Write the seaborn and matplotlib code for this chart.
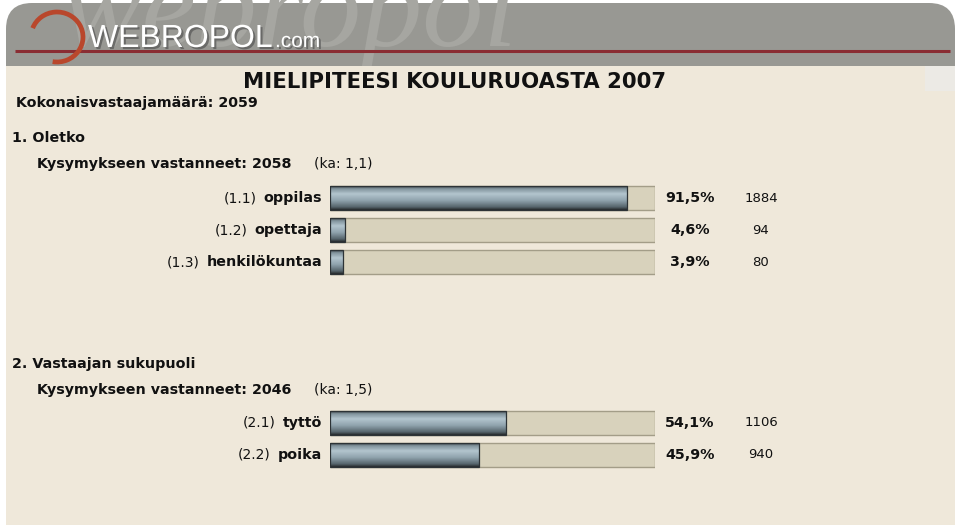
import numpy as np
import matplotlib
matplotlib.use('Agg')
import matplotlib.pyplot as plt
import matplotlib.patches as mpatches
import matplotlib.patheffects as pe
from matplotlib.colors import LinearSegmentedColormap
import seaborn as sns


# --- DATA ---

TITLE = 'MIELIPITEESI KOULURUOASTA 2007'
TOTAL_RESPONDENTS = 2059

Q1_TITLE = '1. Oletko'
Q1_ANSWERED = 2058
Q1_MEAN = '1,1'
Q1_CODES = ['(1.1)', '(1.2)', '(1.3)']
Q1_LABELS = ['oppilas', 'opettaja', 'henkilökuntaa']
Q1_PCT = [91.5, 4.6, 3.9]
Q1_COUNTS = [1884, 94, 80]

Q2_TITLE = '2. Vastaajan sukupuoli'
Q2_ANSWERED = 2046
Q2_MEAN = '1,5'
Q2_CODES = ['(2.1)', '(2.2)']
Q2_LABELS = ['tyttö', 'poika']
Q2_PCT = [54.1, 45.9]
Q2_COUNTS = [1106, 940]


# --- STYLE ---

W, H = 960, 529
PANEL = '#EFE8DA'
HEADER = '#989893'
WATERMARK = '#a6a6a1'
TRACK = '#D8D2BC'
TRACK_EDGE = '#A39D88'
BAR_EDGE = '#2d3336'
TEXT = '#111111'
BAR_CMAP = LinearSegmentedColormap.from_list('steel', [
    (0.00, '#3a4246'), (0.10, '#7f919a'), (0.32, '#b3c5ce'),
    (0.60, '#90a3ad'), (0.88, '#56656c'), (1.00, '#25292b')])
GRAD = np.linspace(0, 1, 64).reshape(-1, 1)

BOLD = 10.3
NORMAL = 10

sns.set_style('white')
plt.rcParams['font.family'] = ['DejaVu Sans']


def px_axes(fig, x0, y0, x1, y1):
    # axes placed by pixel box (top-left origin)
    return fig.add_axes([x0 / W, 1 - y1 / H, (x1 - x0) / W, (y1 - y0) / H])


def draw_bars(ax, codes, labels, pct, counts):
    n = len(labels)
    sns.barplot(x=[100] * n, y=labels, color=TRACK, edgecolor=TRACK_EDGE,
                linewidth=1.0, width=0.75, saturation=1, ax=ax)
    sns.barplot(x=pct, y=labels, color='#8fa2ac', width=0.75,
                saturation=1, linewidth=0, ax=ax)

    # steel gradient inside each value bar
    for patch in ax.patches[n:]:
        x0, y0 = patch.get_x(), patch.get_y()
        w, h = patch.get_width(), patch.get_height()
        im = ax.imshow(GRAD, cmap=BAR_CMAP, aspect='auto', interpolation='bilinear',
                       extent=[x0, x0 + w, y0 + h, y0], zorder=3)
        im.set_clip_path(patch)
        patch.set_facecolor('none')
        patch.set_edgecolor(BAR_EDGE)
        patch.set_linewidth(0.9)
        patch.set_zorder(4)

    ax.set_xlim(0, 100)
    ax.set_ylim(n - 0.5, -0.5)
    ax.axis('off')

    tr = ax.get_yaxis_transform()
    for i, (code, lab, p, c) in enumerate(zip(codes, labels, pct, counts)):
        t = ax.text(-0.025, i, lab, transform=tr, ha='right', va='center',
                    fontsize=BOLD, fontweight='bold', color=TEXT)
        ax.annotate(code, xy=(0, 0.5), xycoords=t, xytext=(-5, 0),
                    textcoords='offset points', ha='right', va='center',
                    fontsize=NORMAL, color=TEXT)
        ax.text(1.108, i, f'{p:.1f}'.replace('.', ',') + '%', transform=tr,
                ha='center', va='center', fontsize=BOLD, fontweight='bold', color=TEXT)
        ax.text(1.326, i, str(c), transform=tr, ha='center', va='center',
                fontsize=9.5, color=TEXT)


fig = plt.figure(figsize=(W / 100, H / 100), dpi=100, facecolor='white')

# --- BACKGROUND / HEADER ---
bg = fig.add_axes([0, 0, 1, 1])
bg.set_xlim(0, W)
bg.set_ylim(H, 0)
bg.axis('off')

head = mpatches.FancyBboxPatch((6, 3), 949, 100, boxstyle='round,pad=0,rounding_size=26',
                               facecolor=HEADER, edgecolor='none', zorder=1)
bg.add_patch(head)
wm = bg.text(60, 46, 'webropol', fontsize=88, fontstyle='italic', family='Liberation Serif',
             color=WATERMARK, zorder=1.5)
wm.set_clip_path(head)
bg.add_patch(mpatches.Rectangle((6, 66), 949, 459, facecolor=PANEL, edgecolor='none', zorder=2))
bg.add_patch(mpatches.Rectangle((925, 66), 30, 25, facecolor='#ECEAE5', edgecolor='none', zorder=2.5))
bg.plot([15, 950], [51, 51], color='#8a2d33', lw=2.2, zorder=3, solid_capstyle='butt')

# logo swoosh
bg.add_patch(mpatches.Arc((57, 37), 52, 50, theta1=-160, theta2=100, color='#b9472c',
                          lw=3.4, zorder=4))
shadow = [pe.withSimplePatchShadow(offset=(1.5, -1.5), shadow_rgbFace='#555555', alpha=0.7)]
bg.text(88, 47, 'WEBROPOL', fontsize=23, family='Liberation Sans', color='white',
        zorder=5, path_effects=shadow)
bg.text(275, 47, '.com', fontsize=15, family='Liberation Sans', color='white',
        zorder=5, path_effects=shadow)

# --- TEXTS ---
bg.text(243, 88, TITLE, fontsize=15.3, fontweight='bold', color=TEXT, zorder=5)
bg.text(16, 107, f'Kokonaisvastaajamäärä: {TOTAL_RESPONDENTS}', fontsize=BOLD,
        fontweight='bold', color=TEXT, zorder=5)

bg.text(12, 142, Q1_TITLE, fontsize=BOLD, fontweight='bold', color=TEXT, zorder=5)
bg.text(37, 168, f'Kysymykseen vastanneet: {Q1_ANSWERED}', fontsize=BOLD,
        fontweight='bold', color=TEXT, zorder=5)
bg.text(314, 168, f'(ka: {Q1_MEAN})', fontsize=NORMAL, color=TEXT, zorder=5)

bg.text(12, 368, Q2_TITLE, fontsize=BOLD, fontweight='bold', color=TEXT, zorder=5)
bg.text(37, 394, f'Kysymykseen vastanneet: {Q2_ANSWERED}', fontsize=BOLD,
        fontweight='bold', color=TEXT, zorder=5)
bg.text(314, 394, f'(ka: {Q2_MEAN})', fontsize=NORMAL, color=TEXT, zorder=5)

# --- BARS ---
ax1 = px_axes(fig, 330, 182, 655, 278)
draw_bars(ax1, Q1_CODES, Q1_LABELS, Q1_PCT, Q1_COUNTS)

ax2 = px_axes(fig, 330, 407, 655, 471)
draw_bars(ax2, Q2_CODES, Q2_LABELS, Q2_PCT, Q2_COUNTS)

fig.savefig('out.png', dpi=100, facecolor='white')
